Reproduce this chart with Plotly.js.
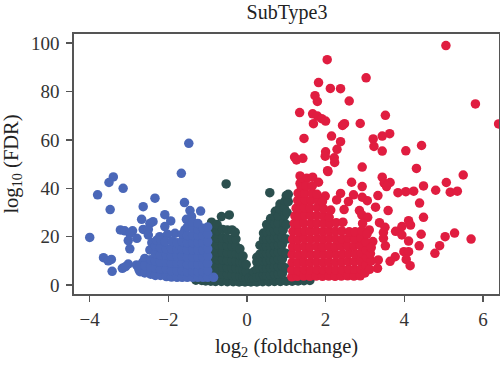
<!DOCTYPE html>
<html><head><meta charset="utf-8">
<script src="https://cdn.plot.ly/plotly-3.0.1.min.js"></script>
<style>html,body{margin:0;padding:0;background:#fff}</style></head>
<body><div id="chart" style="width:500px;height:368px"></div>
<script>
const chartTitle = "SubType3";
const xTickVals = [-4,-2,0,2,4,6];
const xTickText = ["−4","−2","0","2","4","6"];
const yTickVals = [0,20,40,60,80,100];
const bluePoints = [[-1.48,58.6],[-1.67,46.2],[-3.40,44.7],[-3.51,42.4],[-3.15,40],[-3.80,37.3],[-2.34,35.9],[-2.64,32.4],[-1.59,34.1],[-3.48,31.2],[-2.09,29.1],[-1.45,30.8],[-1.18,30.6],[-2.68,27.2],[-2.39,26.2],[-2.47,25.5],[-1.94,26.5],[-4.0,19.7],[-3.22,22.8],[-3.11,22.4],[-2.91,22.4],[-2.98,21.4],[-3.02,18.4],[-2.80,19.3],[-2.98,15],[-3.65,11.3],[-3.45,10.6],[-3.53,10],[-3.43,5.7],[-3.17,6.9],[-3.02,8.7],[-3.09,7.6],[-2.81,8.3],[-2.72,5.5],[-2.60,11],[-2.64,23],[-2.51,23],[-2.51,20.7],[-2.09,24.2],[-1.83,21.4],[-2.22,20],[-2.47,14.5],[-1.54,27.2],[-1.41,28.3],[-1.58,22.8],
[-2.75,6.5],[-2.65,9.5],[-2.42,17.5],[-2.72,8],[-2.6,5],[-2.6,8],[-2.45,4.5],[-2.45,7.5],[-2.45,10.5],[-2.33,4],[-2.33,7],[-2.33,10],[-2.33,13],[-2.33,16],[-2.3,18.5],
[-2.2,4],[-2.2,6.5],[-2.2,9.5],[-2.2,12.5],[-2.2,15.5],[-2.18,18.5],[-2.05,3.5],[-2.05,6.5],[-2.05,9.5],[-2.05,12.5],[-2.05,15],[-2.02,21],[-2.08,18],
[-1.92,3.3],[-1.92,6],[-1.92,9],[-1.92,12],[-1.92,15],[-1.9,18.2],[-1.78,3.2],[-1.78,6],[-1.78,9],[-1.78,12],[-1.78,15],[-1.78,17.5],
[-1.65,3.2],[-1.65,6],[-1.65,9],[-1.65,12],[-1.65,15],[-1.65,18],[-1.65,21],[-1.52,3.2],[-1.52,5.5],[-1.52,8.5],[-1.52,11.5],[-1.52,14.5],[-1.52,17.5],[-1.52,20.5],[-1.52,24],
[-1.38,3.2],[-1.38,5.5],[-1.38,8.5],[-1.38,11.5],[-1.38,14.5],[-1.38,17.5],[-1.38,20.5],[-1.38,23.5],[-1.38,26],[-1.25,3.2],[-1.25,5.5],[-1.25,8.5],[-1.25,11.5],[-1.25,14.5],[-1.25,17.5],[-1.25,20.5],[-1.25,23],[-1.25,25.5],
[-1.12,3.2],[-1.12,5.5],[-1.12,8.5],[-1.12,11.5],[-1.12,14.5],[-1.12,17.5],[-1.12,20.5],[-1.12,23.5],[-1.0,3.2],[-1.0,6],[-1.0,9],[-1.0,12],[-1.0,15],[-1.0,18],[-1.0,21],[-1.0,24],[-0.85,3.2]];
const redPoints = [[5.06,99],[2.04,93.2],[3.03,85.7],[1.82,83.7],[2.12,81.3],[2.38,81.2],[1.73,78.3],[1.79,75.9],[2.60,76.1],[5.81,74.9],[1.34,71.3],[1.67,70.8],[1.79,69.9],[1.90,68.8],[2.0,67.8],[1.69,66.7],[3.52,70.2],[2.88,66.8],[2.48,66.7],[2.43,66],[6.40,66.6],[3.63,62.6],[3.44,61.6],[3.21,60.4],[2.15,61.6],[1.45,60.6],[2.38,59.3],[3.23,57.3],[4.44,57.7],[3.44,55.4],[4.04,55.5],[2.29,56.1],[2.0,55.1],[1.99,53.3],[1.21,52.9],[1.26,51.7],[1.42,52.4],[2.22,52.6],[2.23,50.7],[2.93,48.8],[2.05,47.3],[4.31,48.2],
[5.50,45.5],[2.06,46.9],[1.35,45.1],[1.52,44.2],[1.67,44.6],[1.82,42.5],[1.35,42],[2.66,42.5],[2.93,40.7],[3.44,44.6],[3.49,42.1],[3.64,42.4],[3.55,40.7],[4.49,41],[5.07,42.4],[4.80,39.2],[5.17,38.4],[5.35,38.8],[3.84,38.2],[4.04,38.6],[4.24,38.8],[3.33,37],[2.38,37.9],[4.39,33.9],[4.49,28],[3.27,32.2],[3.59,30.8],[3.06,34.9],[2.93,36.3],[2.71,37.3],[2.58,34.5],[2.28,35.2],[1.99,36.8],[2.47,31.2],[2.86,30.8],[2.92,29],[3.07,28],[2.94,25.5],[3.37,25.8],[3.51,23.9],[4.11,26.6],[4.16,24.8],[3.94,24.2],[3.78,22.2],[3.94,20.7],[4.11,18.2],[4.43,21],[5.28,21.5],[5.04,20],[5.70,19],[4.90,16.3],[4.38,16.2],[4.78,13.1],[3.99,13.8],[4.11,13.8],[4.05,10.6],[4.15,8],[3.77,11.7],[3.64,9.8],[3.52,16.2],[3.47,19.3],[3.47,21.7],[3.32,6.9],[3.11,22.8],[3.34,10.4],[3.2,18],
[1.14,3.4],[1.14,6.2],[1.15,9.4],[1.15,12.6],[1.16,15.8],[1.16,19],[1.17,22.2],[1.2,25.4],[1.22,28.6],[1.25,31.8],[1.29,35],[1.3,38],
[1.28,3.6],[1.3,6],[1.29,9.2],[1.31,12.4],[1.3,15.6],[1.3,18.8],[1.32,22],[1.3,25.2],[1.32,28.4],[1.36,31.6],[1.38,34.8],[1.4,38],[1.38,40.5],
[1.44,3.7],[1.46,6.4],[1.45,9.6],[1.47,12.8],[1.46,16],[1.46,19.2],[1.47,22.4],[1.45,25.6],[1.47,28.8],[1.46,32],[1.48,35.2],[1.47,38],[1.5,41],
[1.6,3.6],[1.62,6.2],[1.61,9.4],[1.63,12.6],[1.6,15.8],[1.62,19],[1.61,22.2],[1.63,25.4],[1.62,28.6],[1.6,31.8],[1.63,35],[1.65,38],[1.66,41],
[1.76,3.7],[1.78,6.4],[1.77,9.6],[1.79,12.8],[1.77,16],[1.79,19.2],[1.76,22.4],[1.78,25.6],[1.77,28.8],[1.79,32],[1.8,35],[1.78,37.5],
[1.92,3.6],[1.94,6.2],[1.93,9.4],[1.95,12.6],[1.92,15.8],[1.94,19],[1.93,22.2],[1.95,25.4],[1.94,28.6],[1.95,31.5],[1.92,34.5],
[2.08,3.7],[2.1,6.4],[2.09,9.6],[2.1,12.8],[2.08,16],[2.1,19.2],[2.09,22.4],[2.11,25.4],[2.09,28],[2.13,31],
[2.24,3.6],[2.26,6.2],[2.25,9.4],[2.27,12.6],[2.24,15.8],[2.26,19],[2.25,22.2],[2.27,25.8],
[2.4,3.7],[2.42,6.4],[2.41,9.6],[2.43,12.8],[2.4,16],[2.42,19],[2.41,22.4],[2.44,26],
[2.56,3.8],[2.58,6.6],[2.57,9.8],[2.59,13],[2.56,16.2],[2.58,19.4],[2.6,22],
[2.72,3.7],[2.74,6.5],[2.73,9.7],[2.75,12.9],[2.72,16.1],[2.74,19],[2.75,22],
[2.88,3.8],[2.9,6.7],[2.89,9.9],[2.91,13.1],[2.88,16.3],[2.9,19.5],[2.92,22.5],
[3.0,5],[3.03,8.2],[3.04,11.4],[3.03,14.6],[3.02,17.8],[3.05,21],[3.12,6.5],[3.16,10],[3.14,13],[3.16,15.5]];
const greenPoints = [[-0.53,41.8],[0.58,38.2],[-0.65,28.3],[-0.45,29],
[-1.3,2],[-1.15,1.9],[-1.05,1.7],[-0.92,1.6],[-0.8,1.5],[-0.65,1.5],[-0.5,1.4],[-0.35,1.4],[-0.2,1.3],[-0.05,1.3],[0.1,1.3],[0.25,1.3],[0.4,1.4],[0.55,1.4],[0.7,1.5],[0.85,1.5],[1.0,1.6],[1.15,1.6],[1.3,1.7],[1.45,1.8],[1.6,1.9],
[-0.86,5],[-0.86,8],[-0.86,11],[-0.86,14],[-0.86,17],[-0.87,20],[-0.88,23],[-0.9,26],
[-0.74,4.5],[-0.74,7.5],[-0.74,10.5],[-0.74,13.5],[-0.74,16.5],[-0.74,19.5],[-0.75,22.5],[-0.76,25],
[-0.62,4.5],[-0.62,7.5],[-0.62,10.5],[-0.62,13.5],[-0.62,16.5],[-0.62,19.5],[-0.62,23],
[-0.5,4.2],[-0.5,7.2],[-0.5,10.2],[-0.5,13.2],[-0.5,16.2],[-0.5,19.2],[-0.5,22.8],
[-0.38,4],[-0.38,7],[-0.38,10],[-0.38,13],[-0.38,16],[-0.38,19],[-0.38,22.8],
[-0.28,3.8],[-0.28,7],[-0.28,10],[-0.28,13],[-0.28,16],[-0.28,19],[-0.3,21.8],
[-0.18,3.5],[-0.18,6.5],[-0.18,9.5],[-0.18,12.5],[-0.18,15],[-0.1,3.2],[-0.1,6.2],[-0.1,9.2],[-0.1,12],
[-0.02,3],[-0.02,5.5],[-0.02,8.5],[0.06,3],[0.12,3],[0.17,3.2],[0.17,5.5],[0.25,3.5],[0.25,6.5],[0.25,9.5],[0.25,11.5],
[0.33,3.8],[0.33,6.8],[0.33,9.8],[0.33,12.8],[0.33,16.5],[0.42,4],[0.42,7],[0.42,10],[0.42,13],[0.42,16],[0.42,19],[0.42,21.5],
[0.5,4],[0.5,7],[0.5,10],[0.5,13],[0.5,16],[0.5,19],[0.5,22],[0.5,25],
[0.6,4.2],[0.6,7.2],[0.6,10.2],[0.6,13.2],[0.6,16.2],[0.6,19.2],[0.6,22.2],[0.6,25.2],[0.6,27.5],
[0.7,4.4],[0.7,7.4],[0.7,10.4],[0.7,13.4],[0.7,16.4],[0.7,19.4],[0.7,22.4],[0.7,25.4],[0.7,28.4],[0.72,30.5],
[0.8,4.6],[0.8,7.6],[0.8,10.6],[0.8,13.6],[0.8,16.6],[0.8,19.6],[0.8,22.6],[0.8,25.6],[0.8,28.6],[0.82,31.6],[0.84,33.5],
[0.9,4.8],[0.9,7.8],[0.9,10.8],[0.9,13.8],[0.9,16.8],[0.9,19.8],[0.92,22.8],[0.94,25.8],[0.96,28.8],[0.95,31.8],[0.97,34.8],[1.0,37],
[1.0,7],[1.0,13],[1.0,19],[1.0,25],[1.02,30],[1.05,34.5],[1.05,37.5]];
const trace = (pts, color) => ({type:"scatter", mode:"markers", cliponaxis:true, x:pts.map(p=>p[0]), y:pts.map(p=>p[1]),
  marker:{color:color, size:9.5, line:{width:0}}, hoverinfo:"skip"});
const fam = "Liberation Serif, serif";
const axisColor = "#555555";
const axis = {showgrid:false, zeroline:false, showline:true, mirror:true, linecolor:axisColor, linewidth:1.6,
  ticks:"outside", ticklen:6, tickwidth:1.4, tickcolor:axisColor, tickfont:{family:fam,size:19,color:"#333"}};
Plotly.newPlot("chart",[trace(greenPoints,"#2b4f4e"),trace(bluePoints,"#4a67b8"),trace(redPoints,"#e01d40")],{
  width:500,height:368,showlegend:false,paper_bgcolor:"#fff",plot_bgcolor:"#fff",
  margin:{l:74,r:1,t:34,b:74},
  title:{text:chartTitle,font:{family:fam,size:20,color:"#222"},x:0.574,xanchor:"center",y:0.968,yanchor:"middle"},
  xaxis:Object.assign({},axis,{range:[-4.4,6.41],tickvals:xTickVals,ticktext:xTickText,ticklabelstandoff:2,
    title:{text:"log<sub>2</sub> (foldchange)",font:{family:fam,size:20.5,color:"#222"},standoff:9}}),
  yaxis:Object.assign({},axis,{range:[-3.7,103.8],tickvals:yTickVals,ticklabelstandoff:3,
    title:{text:"log<sub>10</sub> (FDR)",font:{family:fam,size:20.5,color:"#222"},standoff:8}})
},{displayModeBar:false,staticPlot:true});
</script></body></html>
